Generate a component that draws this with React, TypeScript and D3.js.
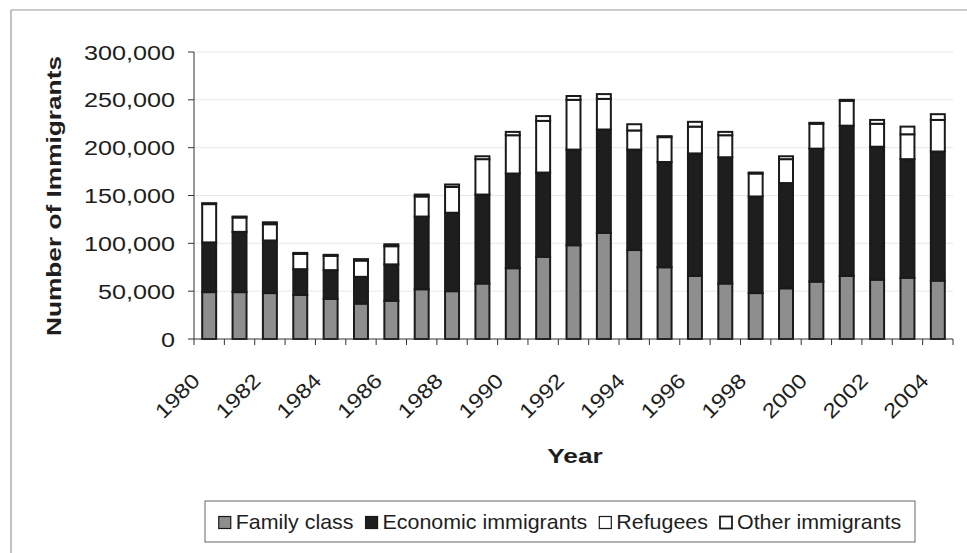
import React from 'react';
import * as d3 from 'd3';

// Annual immigrant arrivals by category
const years = [
  1980, 1981, 1982, 1983, 1984, 1985, 1986, 1987, 1988, 1989, 1990, 1991, 1992,
  1993, 1994, 1995, 1996, 1997, 1998, 1999, 2000, 2001, 2002, 2003, 2004,
];
const familyClass = [
  49000, 49000, 48000, 46000, 42000, 37000, 40000, 52000, 50000, 58000, 74000, 86000, 98000,
  111000, 93000, 75000, 66000, 58000, 48000, 53000, 60000, 66000, 62000, 64000, 61000,
];
const economicImmigrants = [
  52000, 63000, 55000, 27000, 30000, 28000, 38000, 76000, 82000, 93000, 99000, 88000, 100000,
  108000, 105000, 110000, 128000, 132000, 101000, 110000, 139000, 157000, 139000, 124000, 135000,
];
const refugees = [
  40000, 15000, 17000, 16000, 15000, 17000, 19000, 21000, 27000, 37000, 40000, 54000, 52000,
  32000, 20000, 26000, 28000, 23000, 24000, 25000, 26000, 26000, 24000, 26000, 33000,
];
const otherImmigrants = [
  1000, 1000, 2000, 1000, 1000, 1500, 2000, 2000, 2500, 3000, 3500, 5000, 4000,
  5000, 6500, 1000, 5000, 3500, 1000, 3000, 1000, 1000, 4000, 8000, 6000,
];

const seriesKeys = ['family', 'economic', 'refugees', 'other'];
const seriesNames = ['Family class', 'Economic immigrants', 'Refugees', 'Other immigrants'];
const seriesFills = ['#8e8e8e', '#1e1e1e', '#ffffff', '#ffffff'];

const yTicks = [0, 50000, 100000, 150000, 200000, 250000, 300000];
const labelYears = years.filter((y) => y % 2 === 0);

const W = 967;
const H = 553;
const FONT = '"Liberation Sans", Arial, Helvetica, sans-serif';
const INK = '#1e1e1e';

function textWidth(str: string, size: number): number {
  const c = document.createElement('canvas').getContext('2d');
  if (!c) return str.length * size * 0.55;
  c.font = `${size}px "Liberation Sans", Arial, sans-serif`;
  return c.measureText(str).width;
}

// Text drawn with a horizontally widened face (in its own reading direction).
function WideText(props: {
  x: number;
  y: number;
  rotate?: number;
  stretch?: number;
  size: number;
  anchor?: 'start' | 'middle' | 'end';
  bold?: boolean;
  dy?: string;
  children: React.ReactNode;
}) {
  const { x, y, rotate = 0, stretch = 1.2, size, anchor = 'start', bold, dy, children } = props;
  return (
    <text
      transform={`translate(${x},${y}) rotate(${rotate}) scale(${stretch},1)`}
      textAnchor={anchor}
      fontSize={size}
      fontWeight={bold ? 'bold' : 'normal'}
      fill={INK}
      dy={dy}
    >
      {children}
    </text>
  );
}

export default function App() {
  const plot = { left: 194, right: 953, top: 52, bottom: 339 };

  const rows = years.map((year, i) => ({
    year,
    family: familyClass[i],
    economic: economicImmigrants[i],
    refugees: refugees[i],
    other: otherImmigrants[i],
  }));
  const stacked = d3.stack<any>().keys(seriesKeys)(rows);

  const x = d3
    .scaleBand<number>()
    .domain(years)
    .range([plot.left, plot.right])
    .paddingInner(0.54)
    .paddingOuter(0.27);
  const y = d3.scaleLinear().domain([0, 300000]).range([plot.bottom, plot.top]);
  const fmt = d3.format(',');

  const step = x.step();
  const gap = (step - x.bandwidth()) / 2;
  const boundaries = years.map((yr) => (x(yr) as number) - gap).concat([plot.right]);

  // legend layout
  const legendSize = 21;
  const legendStretch = 1.02;
  const markerSize = 12;
  const markerGap = 5;
  const itemGap = 12;
  const widths = seriesNames.map((n) => textWidth(n, legendSize) * legendStretch);
  const totalLegend =
    widths.reduce((a, b) => a + b, 0) +
    seriesNames.length * (markerSize + markerGap) +
    itemGap * (seriesNames.length - 1);
  const legendBox = { x: 205, y: 501, w: 710, h: 41 };
  let cursor = legendBox.x + (legendBox.w - totalLegend) / 2;
  const legendItems = seriesNames.map((name, i) => {
    const item = { name, i, mx: cursor, tx: cursor + markerSize + markerGap };
    cursor += markerSize + markerGap + widths[i] + itemGap;
    return item;
  });

  return (
    <svg
      width={W}
      height={H}
      viewBox={`0 0 ${W} ${H}`}
      style={{ position: 'absolute', left: 0, top: 0, background: '#fff' }}
      fontFamily={FONT}
    >
      <rect x={0} y={0} width={W} height={H} fill="#fff" />
      {/* chart frame */}
      <line x1={11} y1={10} x2={W} y2={10} stroke="#9a9a9a" strokeWidth={1.2} />
      <line x1={11} y1={10} x2={11} y2={H} stroke="#9a9a9a" strokeWidth={1.2} />

      {/* gridlines */}
      {yTicks.slice(1).map((t) => (
        <line key={`g${t}`} x1={plot.left} x2={plot.right} y1={y(t)} y2={y(t)} stroke="#e8e8e8" strokeWidth={1} />
      ))}

      {/* bars */}
      {stacked.map((layer, si) => (
        <g key={seriesKeys[si]}>
          {layer.map((d: any, i: number) => (
            <rect
              key={years[i]}
              x={x(years[i])}
              y={y(d[1])}
              width={x.bandwidth()}
              height={Math.max(0, y(d[0]) - y(d[1]))}
              fill={seriesFills[si]}
              stroke="#1a1a1a"
              strokeWidth={2}
            />
          ))}
        </g>
      ))}

      {/* y axis */}
      <line x1={plot.left} x2={plot.left} y1={plot.top} y2={plot.bottom} stroke="#333" strokeWidth={1} />
      {yTicks.map((t) => (
        <g key={`y${t}`}>
          <line x1={plot.left - 6} x2={plot.left} y1={y(t)} y2={y(t)} stroke="#333" strokeWidth={1} />
          <WideText x={175} y={y(t)} dy="0.36em" anchor="end" size={21} stretch={1.2}>
            {fmt(t)}
          </WideText>
        </g>
      ))}

      {/* x axis */}
      <line x1={plot.left} x2={plot.right} y1={plot.bottom} y2={plot.bottom} stroke="#333" strokeWidth={1} />
      {boundaries.map((bx, i) => (
        <line key={`xt${i}`} x1={bx} x2={bx} y1={plot.bottom} y2={plot.bottom + 6} stroke="#333" strokeWidth={1} />
      ))}
      {labelYears.map((yr) => (
        <WideText
          key={`xl${yr}`}
          x={(x(yr) as number) + x.bandwidth() / 2 - 8}
          y={382}
          rotate={-45}
          anchor="end"
          size={20.5}
          stretch={1.17}
        >
          {yr}
        </WideText>
      ))}

      {/* axis titles */}
      <WideText x={61} y={196} rotate={-90} anchor="middle" size={21} stretch={1.25} bold>
        Number of Immigrants
      </WideText>
      <WideText x={575} y={463} anchor="middle" size={21} stretch={1.25} bold>
        Year
      </WideText>

      {/* legend */}
      <rect
        x={legendBox.x}
        y={legendBox.y}
        width={legendBox.w}
        height={legendBox.h}
        fill="#fff"
        stroke="#666"
        strokeWidth={1}
      />
      {legendItems.map((it) => (
        <g key={it.name}>
          <rect
            x={it.mx}
            y={legendBox.y + legendBox.h / 2 - markerSize / 2 + 1}
            width={markerSize}
            height={markerSize}
            fill={seriesFills[it.i]}
            stroke="#1a1a1a"
            strokeWidth={it.i === 3 ? 1.8 : 1.2}
          />
          <WideText
            x={it.tx}
            y={legendBox.y + legendBox.h / 2}
            dy="0.36em"
            size={legendSize}
            stretch={legendStretch}
          >
            {it.name}
          </WideText>
        </g>
      ))}
    </svg>
  );
}
